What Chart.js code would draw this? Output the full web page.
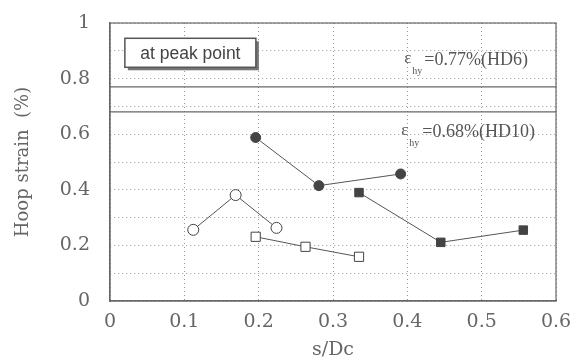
<!DOCTYPE html>
<html><head><meta charset="utf-8">
<script src="https://cdn.jsdelivr.net/npm/chart.js@4"></script>
<style>html,body{margin:0;padding:0;background:#fff;}#wrap{width:574px;height:361px;}</style>
</head><body><div id="wrap"><canvas id="c" width="574" height="361"></canvas></div>
<script>
// Data
const filledCircleX = [0.196, 0.281, 0.391];
const filledCircleY = [0.588, 0.415, 0.457];
const filledSquareX = [0.335, 0.445, 0.556];
const filledSquareY = [0.390, 0.211, 0.255];
const openCircleX = [0.112, 0.169, 0.224];
const openCircleY = [0.256, 0.381, 0.263];
const openSquareX = [0.196, 0.263, 0.335];
const openSquareY = [0.231, 0.195, 0.159];
const yieldLevels = [0.77, 0.68];
const yieldLabels = ["=0.77%(HD6)", "=0.68%(HD10)"];
const xTicks = [0, 0.1, 0.2, 0.3, 0.4, 0.5, 0.6];
const yTicks = [0, 0.2, 0.4, 0.6, 0.8, 1];
const boxLabel = "at peak point";

const SERIF = '"Liberation Serif"';
const pts = (xs, ys) => xs.map((x, i) => ({x, y: ys[i]}));
const lineCol = '#555';
const mk = (xs, ys, style, fill, r) => ({
  data: pts(xs, ys), showLine: true, borderColor: lineCol, borderWidth: 1,
  pointStyle: style, pointRadius: r, pointBackgroundColor: fill,
  pointBorderColor: '#444', pointBorderWidth: 1
});
const datasets = [
  mk(filledCircleX, filledCircleY, 'circle', '#444', 5),
  mk(filledSquareX, filledSquareY, 'rect', '#444', 6),
  mk(openCircleX, openCircleY, 'circle', '#fff', 5.5),
  mk(openSquareX, openSquareY, 'rect', '#fff', 6.5),
];
yieldLevels.forEach(v => datasets.push({
  data: [{x: 0, y: v}, {x: 0.6, y: v}], showLine: true, borderColor: '#666',
  borderWidth: 1.2, pointRadius: 0
}));

const labelOffsets = [-27, 20];
const deco = {
  id: 'deco',
  afterDraw(chart) {
    const {ctx, chartArea: a, scales: {x, y}} = chart;
    ctx.save();
    ctx.strokeStyle = '#666'; ctx.lineWidth = 1.2;
    ctx.strokeRect(a.left, a.top, a.right - a.left, a.bottom - a.top);
    // yield labels
    ctx.fillStyle = '#555';
    ctx.textBaseline = 'middle';
    yieldLevels.forEach((v, i) => {
      const px = x.getPixelForValue(0.396) - i * 3;
      const py = y.getPixelForValue(v) + labelOffsets[i];
      ctx.font = '17px ' + SERIF;
      ctx.textAlign = 'left';
      ctx.fillText('ε', px, py - 1);
      ctx.font = '10px ' + SERIF;
      ctx.fillText('hy', px + 8, py + 11);
      ctx.font = '18px ' + SERIF;
      ctx.fillText(yieldLabels[i], px + 20 + i * 1, py);
    });
    // label box
    const bx = x.getPixelForValue(0.02), by = y.getPixelForValue(0.945);
    const bw = 131, bh = 29;
    ctx.fillStyle = '#777';
    ctx.fillRect(bx + 3, by + 3, bw, bh);
    ctx.fillStyle = '#fff';
    ctx.fillRect(bx, by, bw, bh);
    ctx.strokeStyle = '#555'; ctx.lineWidth = 1.5;
    ctx.strokeRect(bx, by, bw, bh);
    ctx.fillStyle = '#444';
    ctx.font = '17.5px "Liberation Sans"';
    ctx.textAlign = 'center';
    ctx.fillText(boxLabel, bx + bw / 2, by + bh / 2 + 1);
    ctx.restore();
  }
};

new Chart(document.getElementById('c'), {
  type: 'scatter',
  data: {datasets},
  plugins: [deco],
  options: {
    responsive: false, animation: false,
    layout: {padding: {left: 0, right: 18, top: 23, bottom: 0}},
    plugins: {legend: {display: false}, tooltip: {enabled: false}},
    scales: {
      x: {
        type: 'linear', min: 0, max: 0.6,
        afterBuildTicks: s => { s.ticks = xTicks.map(v => ({value: v})); },
        afterFit: s => { s.height = 60; s.paddingLeft = 0; s.paddingRight = 0; },
        ticks: {color: '#666', font: {family: 'DejaVu Serif', size: 19}, padding: 10,
          callback: v => String(v)},
        grid: {color: '#999', drawTicks: false, lineWidth: 1},
        border: {display: true, color: '#666', width: 1.2, dash: [1, 3]},
        title: {display: true, text: 's/Dc', color: '#666',
          font: {family: 'DejaVu Serif', size: 19}, padding: {top: 0, bottom: 0}}
      },
      y: {
        type: 'linear', min: 0, max: 1,
        afterBuildTicks: s => { s.ticks = [0,0.1,0.2,0.3,0.4,0.5,0.6,0.7,0.8,0.9,1].map(v => ({value: v})); },
        afterFit: s => { s.width = 110; s.paddingTop = 0; s.paddingBottom = 0; },
        ticks: {color: '#666', font: {family: 'DejaVu Serif', size: 19}, padding: 20,
          callback: v => yTicks.some(t => Math.abs(t - v) < 1e-9) ? String(v) : ''},
        grid: {color: '#999', drawTicks: false, lineWidth: 1},
        border: {display: true, color: '#666', width: 1.2, dash: [1, 3]},
        title: {display: true, text: 'Hoop strain  (%)', color: '#666',
          font: {family: 'DejaVu Serif', size: 18}, padding: {top: 13, bottom: 10}}
      }
    }
  }
});
</script></body></html>
